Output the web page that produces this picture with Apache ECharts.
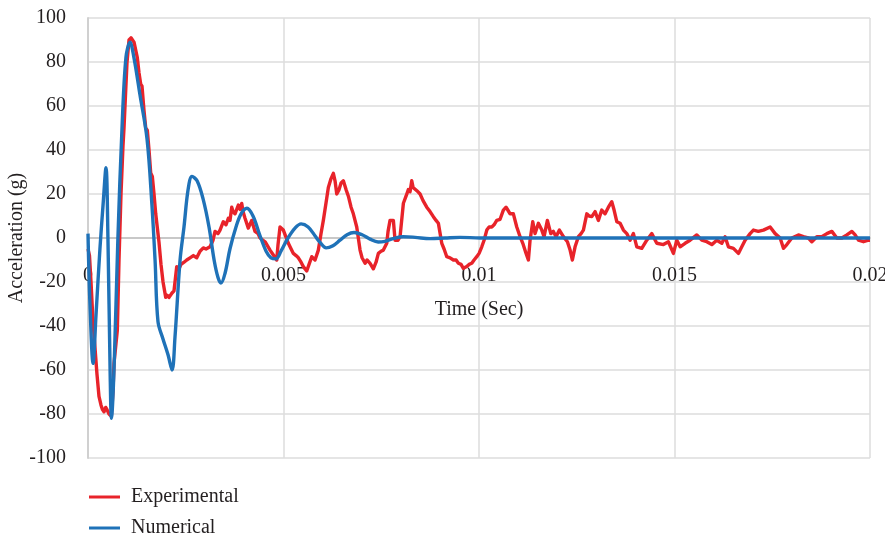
<!DOCTYPE html>
<html>
<head>
<meta charset="utf-8">
<script src="https://cdn.jsdelivr.net/npm/echarts@6/dist/echarts.min.js"></script>
<style>
  html, body { margin: 0; padding: 0; background: #fff; }
  #chart { width: 885px; height: 538px; }
</style>
</head>
<body>
<div id="chart"></div>
<script>
// Time stamps in microseconds, acceleration in g
const expTimeUs = [0, 38, 77, 128, 179, 230, 281, 333, 371, 409, 453, 486, 537, 596, 639, 665, 716, 750, 793, 844, 895, 921, 964, 998, 1049, 1100, 1177, 1261, 1305, 1348, 1381, 1432, 1476, 1517, 1560, 1604, 1645, 1688, 1732, 1816, 1867, 1919, 1988, 2021, 2072, 2098, 2149, 2200, 2269, 2328, 2379, 2456, 2525, 2609, 2694, 2781, 2865, 2949, 3018, 3121, 3198, 3249, 3325, 3377, 3461, 3530, 3589, 3632, 3676, 3709, 3760, 3845, 3888, 3932, 3965, 4016, 4100, 4187, 4272, 4349, 4400, 4528, 4656, 4740, 4827, 4860, 4911, 4996, 5039, 5124, 5167, 5252, 5321, 5380, 5449, 5507, 5594, 5653, 5722, 5807, 5891, 5960, 6019, 6088, 6147, 6216, 6275, 6318, 6362, 6421, 6472, 6531, 6600, 6659, 6728, 6786, 6873, 6958, 7009, 7086, 7137, 7214, 7298, 7367, 7426, 7495, 7554, 7641, 7674, 7725, 7810, 7853, 7930, 7981, 8066, 8134, 8193, 8237, 8280, 8314, 8365, 8441, 8493, 8569, 8664, 8748, 8833, 8902, 8961, 9048, 9107, 9176, 9260, 9345, 9414, 9473, 9541, 9600, 9687, 9746, 9815, 9874, 9943, 10002, 10071, 10130, 10199, 10258, 10327, 10385, 10454, 10539, 10623, 10692, 10744, 10795, 10879, 10966, 11051, 11120, 11204, 11263, 11306, 11375, 11434, 11519, 11606, 11664, 11749, 11836, 11902, 11971, 12056, 12158, 12261, 12330, 12388, 12457, 12542, 12611, 12670, 12757, 12816, 12885, 12969, 13053, 13140, 13225, 13309, 13396, 13455, 13524, 13609, 13693, 13780, 13864, 13949, 14036, 14163, 14291, 14419, 14547, 14716, 14844, 14972, 15059, 15144, 15271, 15399, 15570, 15698, 15826, 15954, 16082, 16210, 16294, 16379, 16507, 16635, 16721, 16806, 16934, 17018, 17146, 17274, 17446, 17574, 17702, 17786, 17873, 18000, 18169, 18297, 18425, 18512, 18640, 18768, 18896, 19024, 19152, 19280, 19408, 19536, 19620, 19705, 19833, 19961, 20000];
const expAccel = [-5, -8, -20, -38, -50, -62, -72, -76, -78, -79, -77, -78, -80, -81, -70, -57, -48, -42, -10, 20, 42, 50, 67, 80, 90, 91, 89, 82, 75, 70, 69, 58, 50, 49, 40, 29.5, 28, 20, 11, -2, -12, -20, -27, -26, -27, -27, -25, -24, -13, -14, -12, -11, -10, -9, -8, -9, -6, -4.5, -5, -4, -1, 3, 2, 3.6, 7.4, 6, 9, 8, 14, 12, 11, 15, 13, 15.7, 12, 9, 4.5, 8, 3, 2, 0, -1.7, -5.5, -7.7, -10, -3, 5, 3.6, 3.6, -2.4, -4, -7, -8, -9, -11, -13, -15, -12, -8.5, -10, -5.5, 2, 8, 16, 23, 27, 29.4, 26, 20, 22, 25, 26, 22, 19, 14, 11, 5, -5.5, -9, -11.5, -10, -11.5, -14, -11, -7, -6, -5.5, -2.4, 3, 8, 8, -1, -1, 0.6, 15.8, 19, 22, 21, 26, 23, 22.6, 21, 20, 17, 14, 12, 9.7, 8, 6.7, -2.4, -5, -8.5, -9, -10, -10, -11.5, -12, -13.8, -13, -12, -11.5, -10, -8.5, -7, -4, -1, 3.6, 5, 5, 6, 8, 8.5, 12.7, 14, 12.5, 11, 11, 5, 0.6, -2.4, -7, -10, -1, 7.4, 2, 6.7, 3.6, 0.6, 8, 2, 3, 0.6, 3.6, 0.6, -1.7, -5.5, -10, -4, 0.6, 2, 3.6, 11, 10, 9.7, 12, 8, 12.7, 11, 14, 16.5, 12.7, 7.4, 6.7, 3.6, 2, -1, 2, -4, -4.7, -1, 2, -2.4, -3, -1.7, -7, -1, -4, -2.4, -1, 1.4, -1, -1.7, -3, -1, -2.4, 0.6, -4, -4.7, -7, -4, -1, 2, 3.6, 3, 3.6, 5, 2, 0, -4.7, -3, 0, 1.4, 0.6, 0, -1.7, 0.6, 0.6, 2, 3, 0, 0, 1.4, 3, 1.4, -1, -1.7, -1, -1];

const numTimeUs = [0, 50, 130, 205, 305, 385, 460, 510, 565, 600, 665, 765, 870, 970, 1075, 1175, 1330, 1510, 1635, 1715, 1790, 1920, 2045, 2150, 2225, 2355, 2455, 2560, 2660, 2790, 2940, 3095, 3225, 3325, 3400, 3505, 3630, 3785, 3915, 4065, 4220, 4400, 4555, 4680, 4810, 4935, 5115, 5295, 5450, 5630, 5805, 5935, 6090, 6265, 6445, 6625, 6805, 7010, 7215, 7420, 7595, 7800, 8060, 8365, 8750, 9130, 9515, 10025, 11000, 12000, 13000, 14000, 15000, 16000, 17000, 18000, 19000, 20000];
const numAccel = [2, -30, -57, -35, -5, 15, 32, 0, -60, -82, -60, 0, 50, 82, 89, 82, 65, 45, 15, -10, -38, -46, -53, -60, -45, -10, 5, 22, 28, 26, 18, 5, -10, -18, -20.5, -16, -5, 5, 11, 13.5, 10, 1, -6, -9, -9.5, -6, 0, 4.5, 6.4, 5, 1, -2, -4.5, -3.5, -1, 1.5, 2.5, 1.5, -0.5, -1.8, -1.5, -0.3, 0.6, 0.3, -0.3, 0, 0.3, 0, 0, 0, 0, 0, 0, 0, 0, 0, 0, 0];

const xTickLabels = ['0', '0.005', '0.01', '0.015', '0.02'];
const seriesNames = ['Experimental', 'Numerical'];

const toPairs = (ts, vs) => ts.map((t, i) => [t / 1e6, vs[i]]);

const FONT = "'Liberation Serif', 'DejaVu Serif', serif";
const TEXT = '#231f20';
const GRID = '#dcdcdc';

const PLOT_TOP = 18, PLOT_BOTTOM = 80, PLOT_H = 538 - PLOT_TOP - PLOT_BOTTOM;

const chart = echarts.init(document.getElementById('chart'), null, { renderer: 'canvas' });
chart.setOption({
  animation: false,
  backgroundColor: '#ffffff',
  textStyle: { fontFamily: FONT, color: TEXT },
  grid: { left: 88, right: 15, top: PLOT_TOP, bottom: PLOT_BOTTOM, containLabel: false, outerBoundsMode: 'none' },
  legend: {
    data: seriesNames,
    orient: 'vertical',
    left: 89,
    top: 487,
    padding: 0,
    icon: 'rect',
    itemWidth: 31,
    itemHeight: 3,
    itemGap: 11,
    textStyle: { fontFamily: FONT, fontSize: 20, color: TEXT, padding: [0, 0, 0, 6] }
  },
  xAxis: {
    type: 'value',
    min: 0,
    max: 0.02,
    interval: 0.005,
    position: 'bottom',
    // axis line sits on the zero level, half way up the plot
    offset: -PLOT_H / 2,
    name: 'Time (Sec)',
    nameLocation: 'middle',
    nameGap: 62,
    nameTextStyle: { fontFamily: FONT, fontSize: 20, color: TEXT },
    axisLine: { show: true, onZero: false, lineStyle: { color: '#c8c8c8', width: 2 } },
    axisTick: { show: false },
    axisLabel: {
      margin: 28,
      fontFamily: FONT,
      fontSize: 20,
      color: TEXT,
      formatter: v => xTickLabels[Math.round(v / 0.005)]
    },
    splitLine: { show: true, lineStyle: { color: GRID, width: 1.5 } }
  },
  yAxis: {
    type: 'value',
    min: -100,
    max: 100,
    interval: 20,
    name: 'Acceleration (g)',
    nameLocation: 'middle',
    nameGap: 61,
    nameMoveOverlap: false,
    nameTextStyle: { fontFamily: FONT, fontSize: 20, color: TEXT },
    axisLine: { show: true, onZero: false, lineStyle: { color: '#d0d0d0', width: 2 } },
    axisTick: { show: false },
    axisLabel: { margin: 22, fontFamily: FONT, fontSize: 20, color: TEXT },
    splitLine: { show: true, lineStyle: { color: GRID, width: 1.5 } }
  },
  series: [
    {
      name: seriesNames[0],
      type: 'line',
      data: toPairs(expTimeUs, expAccel),
      showSymbol: false,
      symbol: 'none',
      color: '#e8232a',
      lineStyle: { width: 3.4, color: '#e8232a', join: 'round' },
      z: 2
    },
    {
      name: seriesNames[1],
      type: 'line',
      data: toPairs(numTimeUs, numAccel),
      showSymbol: false,
      symbol: 'none',
      smooth: 0.35,
      color: '#1f72b8',
      lineStyle: { width: 3.4, color: '#1f72b8', join: 'round' },
      z: 3
    }
  ]
});
</script>
</body>
</html>
